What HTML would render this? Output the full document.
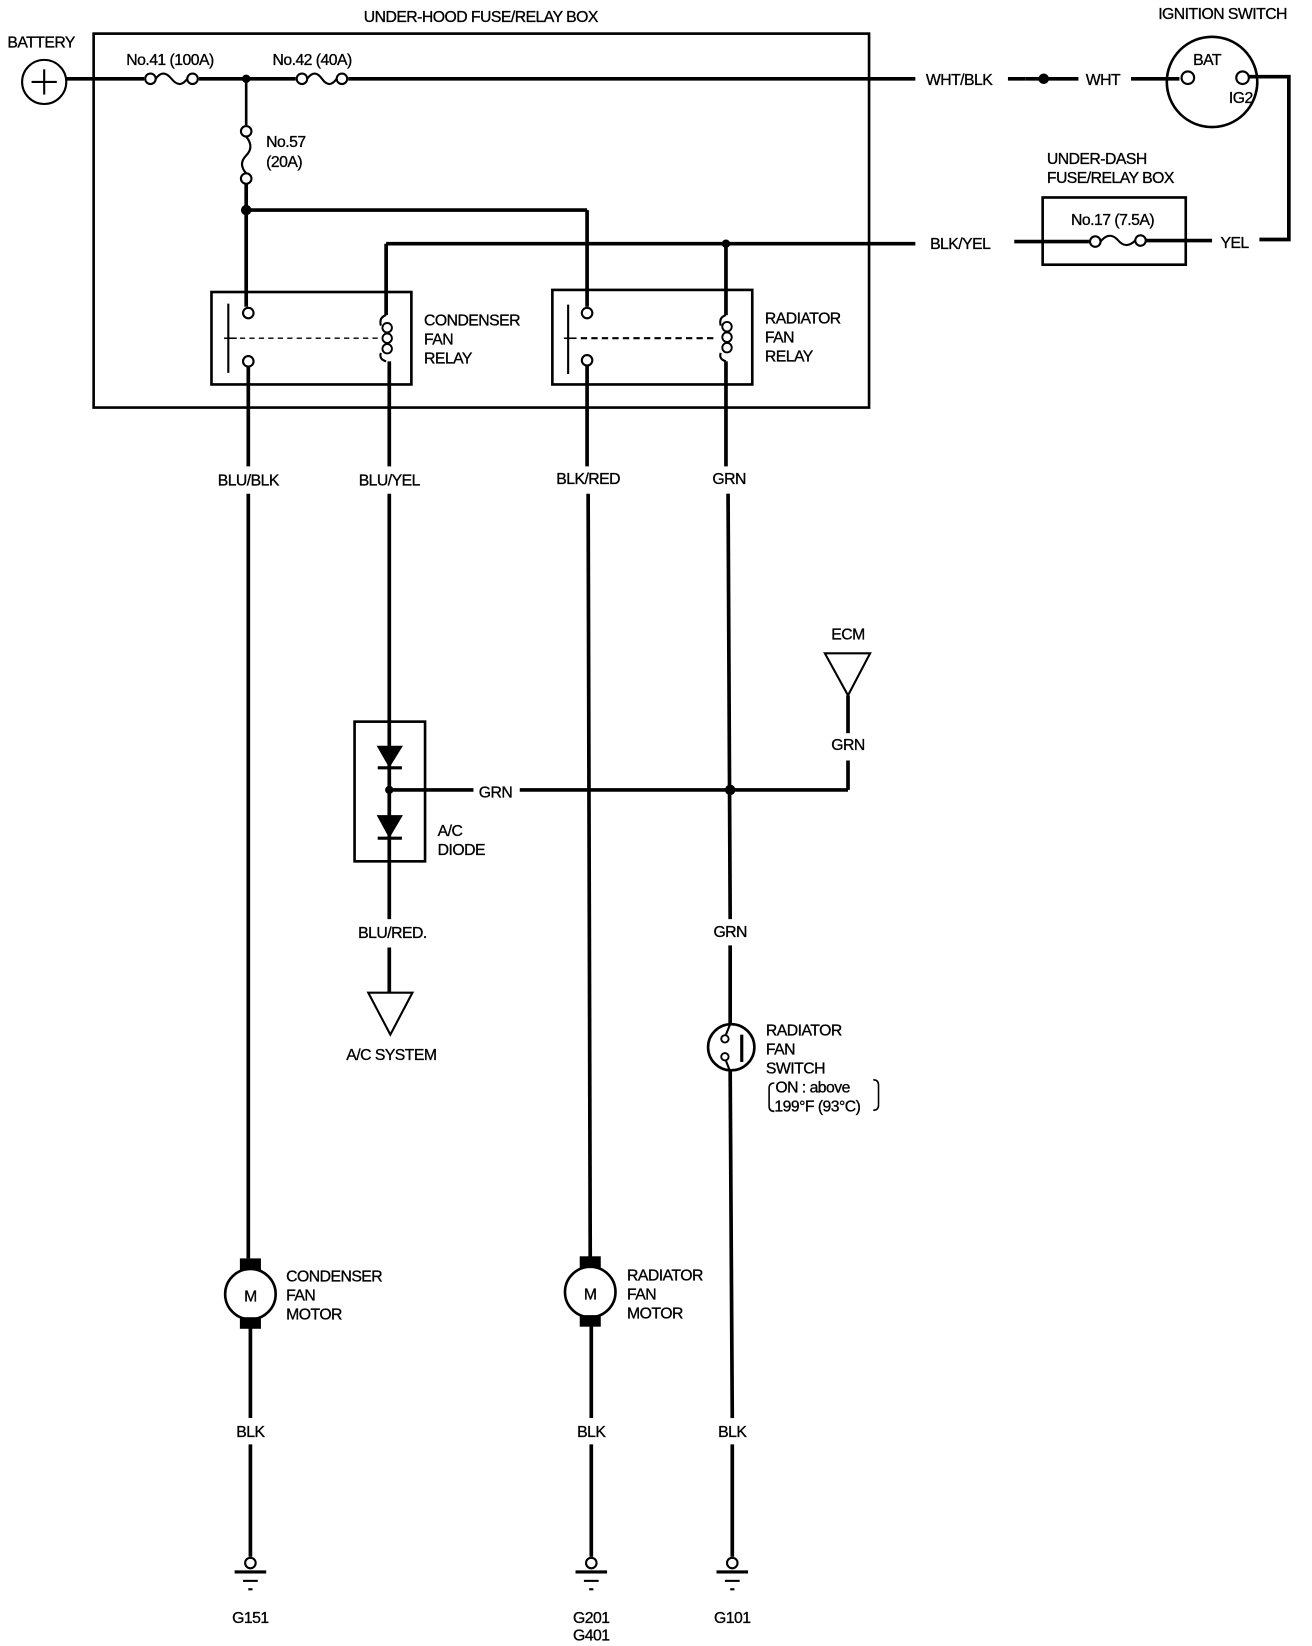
<!DOCTYPE html>
<html><head><meta charset="utf-8"><style>
html,body{margin:0;padding:0;background:#fff;}
svg{display:block;}
text{font-family:"Liberation Sans",sans-serif;font-size:15px;fill:#000;stroke:#000;stroke-width:0.3;}
</style></head><body>
<svg width="1312" height="1646" viewBox="0 0 1247 1567" preserveAspectRatio="none" xmlns="http://www.w3.org/2000/svg">
<g fill="none" stroke="#000" stroke-width="3.5">
<rect x="89" y="32" width="737" height="356" stroke-width="2.5"/>
<circle cx="42" cy="78" r="21" stroke-width="2"/>
<line x1="42" y1="66" x2="42" y2="90" stroke-width="2"/><line x1="30" y1="78" x2="54" y2="78" stroke-width="2"/>
<line x1="63" y1="75" x2="137" y2="75"/>
<line x1="189" y1="75" x2="281" y2="75"/>
<line x1="331" y1="75" x2="870" y2="75"/>
<circle cx="143" cy="75" r="5" stroke-width="2"/><circle cx="183" cy="75" r="5" stroke-width="2"/>
<path d="M148 75 Q155 65 163 75 Q171 85 178 75" stroke-width="2"/>
<circle cx="287" cy="75" r="5" stroke-width="2"/><circle cx="325" cy="75" r="5" stroke-width="2"/>
<path d="M292 75 Q299 65 306 75 Q313 85 320 75" stroke-width="2"/>
<line x1="234" y1="75" x2="234" y2="119" stroke-width="2.5"/>
<circle cx="234" cy="125" r="5" stroke-width="2"/><circle cx="234" cy="170" r="5" stroke-width="2"/>
<path d="M234 130 Q242 140 234 148 Q226 156 234 165" stroke-width="2"/>
<line x1="234" y1="175" x2="234" y2="292"/>
<line x1="234" y1="200" x2="558" y2="200"/>
<line x1="558" y1="200" x2="558" y2="292"/>
<line x1="367" y1="232" x2="870" y2="232"/>
<line x1="367" y1="232" x2="367" y2="300"/>
<line x1="690" y1="232" x2="690" y2="300"/>
<line x1="958" y1="75" x2="975" y2="75"/>
<line x1="975" y1="75" x2="1025" y2="75"/>
<line x1="1075" y1="75" x2="1121" y2="75"/>
<circle cx="1152" cy="78" r="43" stroke-width="2.5"/>
<circle cx="1129" cy="74" r="6" stroke-width="2"/>
<circle cx="1181" cy="74" r="6" stroke-width="2"/>
<polyline points="1187,73 1225,73 1225,228 1197,228"/>
<rect x="991" y="188" width="136" height="64" stroke-width="2.5"/>
<line x1="964" y1="230" x2="1035" y2="230"/>
<circle cx="1041" cy="230" r="5" stroke-width="2"/><circle cx="1084" cy="229" r="5" stroke-width="2"/>
<path d="M1046 230 Q1054 220 1062 228 Q1070 238 1079 229" stroke-width="2"/>
<line x1="1089" y1="229" x2="1152" y2="229"/>
<rect x="201" y="278" width="190" height="88" stroke-width="2.5"/>
<line x1="217" y1="289" x2="217" y2="355" stroke-width="2"/>
<line x1="213" y1="322" x2="225" y2="322" stroke-width="1.5"/>
<line x1="228" y1="322" x2="360" y2="322" stroke-width="1.3" stroke-dasharray="5,4"/>
<circle cx="236" cy="298" r="5" stroke-width="2"/><circle cx="236" cy="344" r="5" stroke-width="2"/>
<path d="M367 300 Q360 302 362 310 M367 344 Q360 342 362 336" stroke-width="2"/>
<circle cx="368" cy="312" r="4.5" stroke-width="1.8"/><circle cx="368" cy="322" r="4.5" stroke-width="1.8"/><circle cx="368" cy="332" r="4.5" stroke-width="1.8"/>
<rect x="525" y="276" width="190" height="90" stroke-width="2.5"/>
<line x1="540" y1="290" x2="540" y2="356" stroke-width="2"/>
<line x1="536" y1="322" x2="548" y2="322" stroke-width="1.5"/>
<line x1="552" y1="322" x2="682" y2="322" stroke-width="2" stroke-dasharray="6,4"/>
<circle cx="558" cy="298" r="5" stroke-width="2"/><circle cx="558" cy="343" r="5" stroke-width="2"/>
<path d="M690 300 Q683 302 685 310 M690 344 Q683 342 685 336" stroke-width="2"/>
<circle cx="691" cy="311" r="4.5" stroke-width="1.8"/><circle cx="691" cy="321" r="4.5" stroke-width="1.8"/><circle cx="691" cy="331" r="4.5" stroke-width="1.8"/>
<line x1="236" y1="349" x2="236" y2="444"/><line x1="236" y1="470" x2="236" y2="1198"/>
<line x1="370" y1="344" x2="370" y2="444"/><line x1="370" y1="470" x2="370" y2="875"/>
<line x1="370" y1="902" x2="370" y2="945"/>
<line x1="558" y1="348" x2="558" y2="444"/><line x1="559" y1="470" x2="561" y2="1198"/>
<line x1="690" y1="344" x2="690" y2="444"/><line x1="692" y1="470" x2="694" y2="875"/>
<line x1="694" y1="900" x2="694" y2="975"/>
<line x1="694" y1="1020" x2="696" y2="1350"/><line x1="696" y1="1375" x2="696" y2="1482"/>
<line x1="238" y1="1262" x2="238" y2="1350"/><line x1="238" y1="1375" x2="238" y2="1482"/>
<line x1="562" y1="1262" x2="562" y2="1350"/><line x1="562" y1="1375" x2="562" y2="1482"/>
<rect x="337" y="687" width="67" height="133" stroke-width="2.5"/>
<line x1="359" y1="731" x2="382" y2="731" stroke-width="3"/>
<line x1="359" y1="798" x2="382" y2="798" stroke-width="3"/>
<line x1="370" y1="752" x2="450" y2="752"/>
<line x1="494" y1="752" x2="806" y2="752"/>
<line x1="806" y1="752" x2="806" y2="724"/>
<line x1="806" y1="662" x2="806" y2="698"/>
<polygon points="784,622 827,622 806,662" stroke-width="2"/>
<polygon points="350,945 392,945 371,985" stroke-width="2"/>
<circle cx="695" cy="997" r="22" stroke-width="2.5"/>
<circle cx="689" cy="989" r="3.5" stroke-width="1.8"/><circle cx="689" cy="1006" r="3.5" stroke-width="1.8"/>
<line x1="705" y1="985" x2="705" y2="1011" stroke-width="3"/>
<line x1="694" y1="975" x2="690" y2="985" stroke-width="2"/><line x1="690" y1="1010" x2="694" y2="1020" stroke-width="2"/>
<path d="M736 1031 Q731 1031 731 1036 L731 1053 Q731 1058 736 1058" stroke-width="1.5"/>
<path d="M830 1028 Q835 1028 835 1033 L835 1052 Q835 1057 830 1057" stroke-width="1.5"/>
<circle cx="238" cy="1232" r="24" stroke-width="2.5"/>
<circle cx="561" cy="1230" r="24" stroke-width="2.5"/>
<circle cx="238" cy="1488" r="5" stroke-width="2"/>
<circle cx="562" cy="1488" r="5" stroke-width="2"/>
<circle cx="696" cy="1488" r="5" stroke-width="2"/>
</g>
<g fill="#000">
<circle cx="234" cy="75" r="4"/><circle cx="234" cy="200" r="5"/><circle cx="690" cy="232" r="4"/>
<circle cx="992" cy="75" r="5"/>
<circle cx="370" cy="752" r="4"/><circle cx="694" cy="752" r="5"/>
<polygon points="358,710 383,710 370,731"/>
<polygon points="358,776 383,776 370,798"/>
<rect x="228" y="1198" width="20" height="11"/><rect x="228" y="1254" width="20" height="11"/>
<rect x="551" y="1196" width="20" height="11"/><rect x="551" y="1252" width="20" height="11"/>
<rect x="223" y="1495" width="30" height="3"/><rect x="231" y="1504" width="14" height="2"/><rect x="236" y="1512" width="4" height="2"/>
<rect x="547" y="1495" width="30" height="3"/><rect x="555" y="1504" width="14" height="2"/><rect x="560" y="1512" width="4" height="2"/>
<rect x="681" y="1495" width="30" height="3"/><rect x="689" y="1504" width="14" height="2"/><rect x="694" y="1512" width="4" height="2"/>
</g>
<g letter-spacing="-0.5">
<text x="457" y="21" text-anchor="middle">UNDER-HOOD FUSE/RELAY BOX</text>
<text x="1162" y="18" text-anchor="middle">IGNITION SWITCH</text>
<text x="7" y="45">BATTERY</text>
<text x="120" y="62">No.41 (100A)</text>
<text x="259" y="62">No.42 (40A)</text>
<text x="253" y="140">No.57</text>
<text x="253" y="159">(20A)</text>
<text x="880" y="81">WHT/BLK</text>
<text x="1032" y="81">WHT</text>
<text x="1134" y="62">BAT</text>
<text x="1168" y="98">IG2</text>
<text x="995" y="156">UNDER-DASH</text>
<text x="995" y="174">FUSE/RELAY BOX</text>
<text x="1018" y="214">No.17 (7.5A)</text>
<text x="884" y="237">BLK/YEL</text>
<text x="1160" y="236">YEL</text>
<text x="403" y="310">CONDENSER</text><text x="403" y="328">FAN</text><text x="403" y="346">RELAY</text>
<text x="727" y="308">RADIATOR</text><text x="727" y="326">FAN</text><text x="727" y="344">RELAY</text>
<text x="236" y="462" text-anchor="middle">BLU/BLK</text>
<text x="370" y="462" text-anchor="middle">BLU/YEL</text>
<text x="559" y="461" text-anchor="middle">BLK/RED</text>
<text x="693" y="461" text-anchor="middle">GRN</text>
<text x="806" y="609" text-anchor="middle">ECM</text>
<text x="806" y="714" text-anchor="middle">GRN</text>
<text x="471" y="759" text-anchor="middle">GRN</text>
<text x="416" y="796">A/C</text><text x="416" y="814">DIODE</text>
<text x="373" y="893" text-anchor="middle">BLU/RED.</text>
<text x="372" y="1009" text-anchor="middle">A/C SYSTEM</text>
<text x="694" y="892" text-anchor="middle">GRN</text>
<text x="728" y="986">RADIATOR</text><text x="728" y="1004">FAN</text><text x="728" y="1022">SWITCH</text>
<text x="737" y="1040">ON : above</text><text x="736" y="1058">199°F (93°C)</text>
<text x="238" y="1239" text-anchor="middle" font-size="17">M</text>
<text x="561" y="1237" text-anchor="middle" font-size="17">M</text>
<text x="272" y="1220">CONDENSER</text><text x="272" y="1238">FAN</text><text x="272" y="1256">MOTOR</text>
<text x="596" y="1219">RADIATOR</text><text x="596" y="1237">FAN</text><text x="596" y="1255">MOTOR</text>
<text x="238" y="1368" text-anchor="middle">BLK</text>
<text x="562" y="1368" text-anchor="middle">BLK</text>
<text x="696" y="1368" text-anchor="middle">BLK</text>
<text x="238" y="1545" text-anchor="middle">G151</text>
<text x="562" y="1545" text-anchor="middle">G201</text>
<text x="562" y="1562" text-anchor="middle">G401</text>
<text x="696" y="1545" text-anchor="middle">G101</text>
</g>
</svg>
</body></html>
